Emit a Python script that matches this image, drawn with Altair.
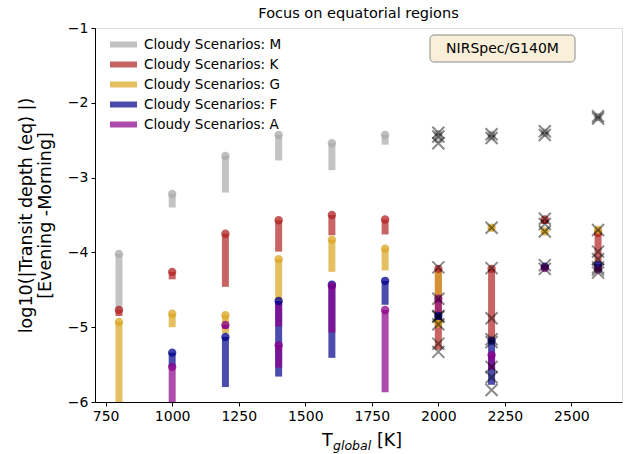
import altair as alt
import pandas as pd

FONT = "DejaVu Sans"

TYPES = ["M", "K", "G", "F", "A"]
COLORS = ["#a9a9a9", "#b22222", "#daa520", "#00008b", "#8b008b"]

TEMPS = [800, 1000, 1200, 1400, 1600, 1800, 2000, 2200, 2400, 2600]

# circle markers per type (None = off the plot)
CIRC_M = [-4.02, -3.22, -2.71, -2.43, -2.54, -2.43, -2.42, -2.43, -2.40, -2.19]
CIRC_K = [-4.77, -4.26, -3.75, -3.57, -3.50, -3.56, -4.22, -4.22, -3.56, -3.74]
CIRC_G = [-4.93, -4.82, -4.84, -4.09, -3.83, -3.95, -4.95, -3.67, -3.72, -3.70]
CIRC_F = [None, -5.34, -5.13, -4.65, -4.43, -4.38, -4.85, -5.18, -4.19, -4.17]
CIRC_A = [None, -5.53, -4.97, -5.24, -4.45, -4.77, -4.62, -5.37, -4.21, -4.23]

# vertical ranges per type: (T, low, high)
SEG_M = [(800, -4.77, -4.02), (1000, -3.40, -3.22), (1200, -3.20, -2.71),
         (1400, -2.77, -2.43), (1600, -2.90, -2.54), (1800, -2.56, -2.43),
         (2000, -2.54, -2.40), (2200, -2.50, -2.42), (2400, -2.44, -2.38),
         (2600, -2.21, -2.18)]
SEG_K = [(800, -4.85, -4.77), (1000, -4.36, -4.26), (1200, -4.46, -3.75),
         (1400, -3.99, -3.57), (1600, -3.77, -3.50), (1800, -3.76, -3.56),
         (2000, -5.30, -4.22), (2200, -5.17, -4.22), (2400, -3.62, -3.56),
         (2600, -4.14, -3.74)]
SEG_G = [(800, -6.30, -4.93), (1000, -5.00, -4.82), (1200, -5.08, -4.84),
         (1400, -4.64, -4.09), (1600, -4.26, -3.83), (1800, -4.24, -3.95),
         (2000, -4.95, -4.24), (2200, -3.69, -3.66), (2400, -3.74, -3.70),
         (2600, -3.72, -3.69)]
SEG_F = [(1000, -5.53, -5.34), (1200, -5.80, -5.13), (1400, -5.66, -4.65),
         (1600, -5.41, -4.43), (1800, -4.70, -4.38), (2000, -4.90, -4.81),
         (2200, -5.77, -5.17), (2400, -4.22, -4.17), (2600, -4.22, -4.15)]
SEG_A = [(1000, -6.30, -5.53), (1200, -5.02, -4.97), (1400, -4.99, -4.65),
         (1400, -5.54, -5.24), (1600, -5.07, -4.45), (1800, -5.87, -4.77),
         (2000, -4.81, -4.62), (2200, -5.57, -5.37), (2400, -4.23, -4.19),
         (2600, -4.25, -4.21)]

# individual scenario crosses (hot planets)
CROSS_T = [2000, 2000, 2000, 2000, 2000, 2000, 2000, 2000, 2000, 2000,
           2200, 2200, 2200, 2200, 2200, 2200, 2200, 2200, 2200, 2200,
           2400, 2400, 2400, 2400, 2400, 2400, 2400,
           2600, 2600, 2600, 2600, 2600, 2600, 2600, 2600]
CROSS_V = [-2.40, -2.45, -2.54, -4.20, -4.86, -4.96, -5.22, -5.33, -4.85, -4.62,
           -2.42, -2.47, -3.67, -4.21, -4.88, -5.16, -5.20, -5.53, -5.67, -5.84,
           -2.38, -2.43, -3.55, -3.62, -3.72, -4.17, -4.22,
           -2.18, -2.21, -3.70, -3.99, -4.09, -4.20, -4.23, -4.27]

X_TICKS = [750, 1000, 1250, 1500, 1750, 2000, 2250, 2500]
Y_TICKS = [-6, -5, -4, -3, -2, -1]

TITLE = "Focus on equatorial regions"
Y_TITLE = ["log10(|Transit depth (eq) |)", "[Evening -Morning]"]
BOX_LABEL = "NIRSpec/G140M"

# ---------- tables ----------
seg_rows = []
for t, segs in zip(TYPES, [SEG_M, SEG_K, SEG_G, SEG_F, SEG_A]):
    for T, lo, hi in segs:
        seg_rows.append({"T": T, "type": t, "lo": lo, "hi": hi, "order": TYPES.index(t)})
seg_df = pd.DataFrame(seg_rows)

circ_rows = []
for t, vals in zip(TYPES, [CIRC_M, CIRC_K, CIRC_G, CIRC_F, CIRC_A]):
    for T, v in zip(TEMPS, vals):
        if v is not None:
            circ_rows.append({"T": T, "type": t, "v": v, "order": TYPES.index(t)})
circ_df = pd.DataFrame(circ_rows)

cross_df = pd.DataFrame({"T": CROSS_T, "v": CROSS_V})

xscale = alt.Scale(domain=[710, 2690], nice=False, zero=False)
yscale = alt.Scale(domain=[-6, -1], nice=False, zero=False)
cscale = alt.Scale(domain=TYPES, range=COLORS)

xaxis = alt.Axis(values=X_TICKS, format="d", title=None, grid=False, labelFontSize=14,
                 labelFont=FONT, labelColor="black", tickColor="black",
                 domainColor="black", tickSize=4, labelPadding=3)
yaxis = alt.Axis(values=Y_TICKS, format="d", grid=False, labelFontSize=14,
                 labelFont=FONT, labelColor="black", tickColor="black",
                 domainColor="black", tickSize=4, labelPadding=3,
                 title=Y_TITLE,
                 titleFont=FONT, titleFontSize=17.5, titleFontWeight="normal",
                 titleColor="black", titlePadding=13, titleLineHeight=19)

legend = alt.Legend(orient="none", legendX=12, legendY=9, title=None,
                    symbolType="stroke", symbolSize=729, symbolStrokeWidth=6,
                    symbolOpacity=0.7, clipHeight=15, rowPadding=5,
                    labelOffset=4, labelFontSize=13.5, labelFont=FONT,
                    labelColor="black", padding=0,
                    labelExpr="'Cloudy Scenarios: ' + datum.label")

bars = alt.Chart(seg_df).mark_rule(strokeWidth=7, opacity=0.7, strokeCap="butt", clip=True).encode(
    x=alt.X("T:Q", scale=xscale, axis=xaxis),
    y=alt.Y("hi:Q", scale=yscale, axis=yaxis),
    y2="lo:Q",
    color=alt.Color("type:N", scale=cscale, legend=legend),
    order="order:Q",
)

circles = alt.Chart(circ_df).mark_point(shape="circle", filled=True, size=70, opacity=0.75, clip=True).encode(
    x=alt.X("T:Q", scale=xscale),
    y=alt.Y("v:Q", scale=yscale),
    color=alt.Color("type:N", scale=cscale, legend=None),
    order="order:Q",
)

crosses = alt.Chart(cross_df).mark_point(
    shape="M-1,-1L1,1M-1,1L1,-1", filled=False, size=144, strokeWidth=2,
    color="black", opacity=0.45, clip=True
).encode(
    x=alt.X("T:Q", scale=xscale),
    y=alt.Y("v:Q", scale=yscale),
)

one = pd.DataFrame({"a": [0]})
box = alt.Chart(one).mark_rect(fill="#faefd9", stroke="#8a8a8a", strokeWidth=1, cornerRadius=4).encode(
    x=alt.value(335), x2=alt.value(480), y=alt.value(7), y2=alt.value(34)
)
box_text = alt.Chart(one).mark_text(text=BOX_LABEL, font=FONT, fontSize=14, color="black",
                                    align="center", baseline="middle").encode(
    x=alt.value(407.5), y=alt.value(21)
)
title_text = alt.Chart(one).mark_text(text=TITLE, font=FONT, fontSize=14.5, color="black",
                                      align="center", baseline="alphabetic").encode(
    x=alt.value(263.5), y=alt.value(-10)
)
xt1 = alt.Chart(one).mark_text(text="T", font=FONT, fontSize=17.5, color="black",
                               align="left", baseline="alphabetic").encode(x=alt.value(227), y=alt.value(418))
xt2 = alt.Chart(one).mark_text(text="global", font=FONT, fontSize=12.5, fontStyle="italic", color="black",
                               align="left", baseline="alphabetic").encode(x=alt.value(238), y=alt.value(422))
xt3 = alt.Chart(one).mark_text(text="[K]", font=FONT, fontSize=17.5, color="black",
                               align="left", baseline="alphabetic").encode(x=alt.value(282), y=alt.value(418))

chart = alt.layer(bars, circles, crosses, box, box_text, title_text, xt1, xt2, xt3).properties(
    width=527, height=374,
    autosize=alt.AutoSizeParams(type="none"),
    padding={"left": 95, "top": 28, "right": 15, "bottom": 52},
).configure_view(stroke="black", strokeWidth=1).configure(background="white")

chart.save("out.html", embed_options={"renderer": "svg", "actions": False})
